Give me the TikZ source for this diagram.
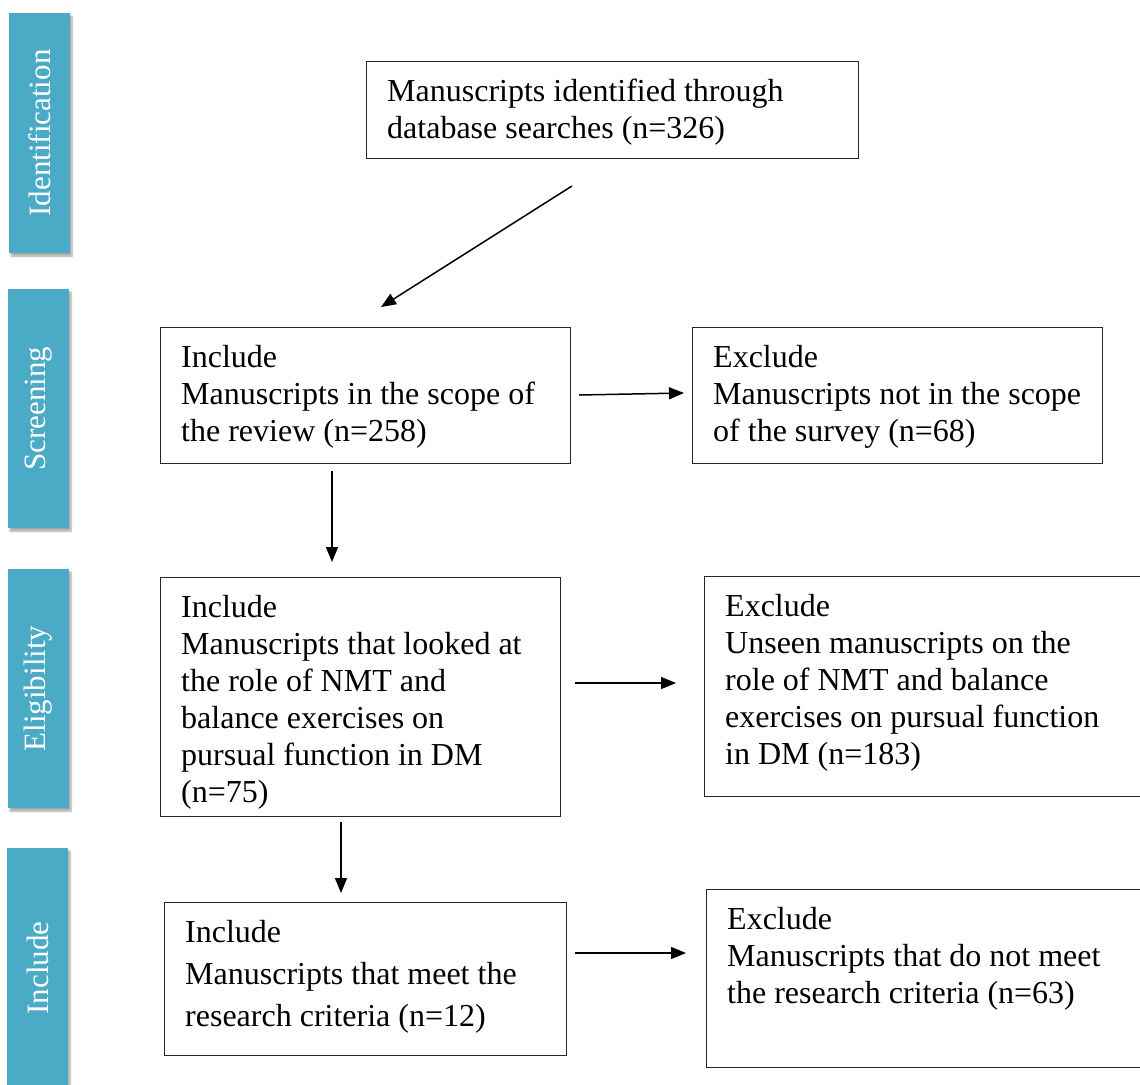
\documentclass[tikz,border=0pt]{standalone}
\usepackage{fontspec}
\setmainfont{Liberation Serif}
\usetikzlibrary{arrows.meta,shadows.blur}
\definecolor{sidecol}{RGB}{75,171,198}
\tikzset{
  box/.style={draw=black!85, line width=1.2pt, rectangle, inner sep=0pt, anchor=north west},
  txt/.style={anchor=base west, inner sep=0pt, align=left, font=\fontsize{32}{37}\selectfont},
  txtwide/.style={txt, font=\fontsize{32}{42}\selectfont},
  side/.style={fill=sidecol, draw=none, inner sep=0pt,
    blur shadow={shadow xshift=2pt, shadow yshift=-3pt, shadow blur steps=6, shadow opacity=35}},
  sidetext/.style={text=white, rotate=90, inner sep=0pt, font=\fontsize{31}{36}\selectfont},
  arr/.style={line width=1.5pt, -{Triangle[length=15pt,width=12pt]}}
}
\begin{document}
\begin{tikzpicture}[x=1pt,y=-1pt]
\useasboundingbox (0,0) rectangle (1140,1084);

% side bars
\node[side, minimum width=61pt, minimum height=240pt] (s1) at (39.5,133) {};
\node[sidetext] (t1) at (s1) {Identification};
\node[side, minimum width=61pt, minimum height=239pt] (s2) at (38.5,408.5) {};
\node[sidetext] (t2) at (s2) {Screening};
\node[side, minimum width=61pt, minimum height=239pt] (s3) at (38.5,688.5) {};
\node[sidetext] (t3) at (s3) {Eligibility};
\node[side, minimum width=61pt, minimum height=240pt] (s4) at (37.5,968) {};
\node[sidetext] (t4) at (s4) {Include};

% boxes
\node[box, minimum width=492pt, minimum height=97pt] (top) at (366,61) {};
\node[box, minimum width=410pt, minimum height=136pt] (sI) at (160,327) {};
\node[box, minimum width=410pt, minimum height=136pt] (sE) at (692,327) {};
\node[box, minimum width=400pt, minimum height=239pt] (eI) at (160,577) {};
\node[box, minimum width=445pt, minimum height=220pt] (eE) at (704,576) {};
\node[box, minimum width=402pt, minimum height=153pt] (iI) at (164,902) {};
\node[box, minimum width=445pt, minimum height=178pt] (iE) at (706,889) {};

% texts (base anchor = baseline of the last line)
\node[txt] (topt) at ([shift={(21,77)}]top.north west) {Manuscripts identified through\\database searches (n=326)};
\node[txt] (sIt) at ([shift={(21,114)}]sI.north west) {Include\\Manuscripts in the scope of\\the review (n=258)};
\node[txt] (sEt) at ([shift={(21,114)}]sE.north west) {Exclude\\Manuscripts not in the scope\\of the survey (n=68)};
\node[txt] (eIt) at ([shift={(21,225)}]eI.north west) {Include\\Manuscripts that looked at\\the role of NMT and\\balance exercises on\\pursual function in DM\\(n=75)};
\node[txt] (eEt) at ([shift={(21,188)}]eE.north west) {Exclude\\Unseen manuscripts on the\\role of NMT and balance\\exercises on pursual function\\in DM (n=183)};
\node[txtwide] (iIt) at ([shift={(21,124)}]iI.north west) {Include\\Manuscripts that meet the\\research criteria (n=12)};
\node[txt] (iEt) at ([shift={(21,114)}]iE.north west) {Exclude\\Manuscripts that do not meet\\the research criteria (n=63)};

% connector ends
\coordinate (a1) at (572,186); \coordinate (a2) at (381,307);
\coordinate (b1) at (579,395); \coordinate (b2) at (684,393);
\coordinate (c1) at (332,471); \coordinate (c2) at (332,562);
\coordinate (d1) at (575,683); \coordinate (d2) at (676,683);
\coordinate (e1) at (341,822); \coordinate (e2) at (341,893);
\coordinate (f1) at (575,953); \coordinate (f2) at (686,953);

\draw[arr] (a1) -- (a2);
\draw[arr] (b1) -- (b2);
\draw[arr] (c1) -- (c2);
\draw[arr] (d1) -- (d2);
\draw[arr] (e1) -- (e2);
\draw[arr] (f1) -- (f2);
\end{tikzpicture}
\end{document}
